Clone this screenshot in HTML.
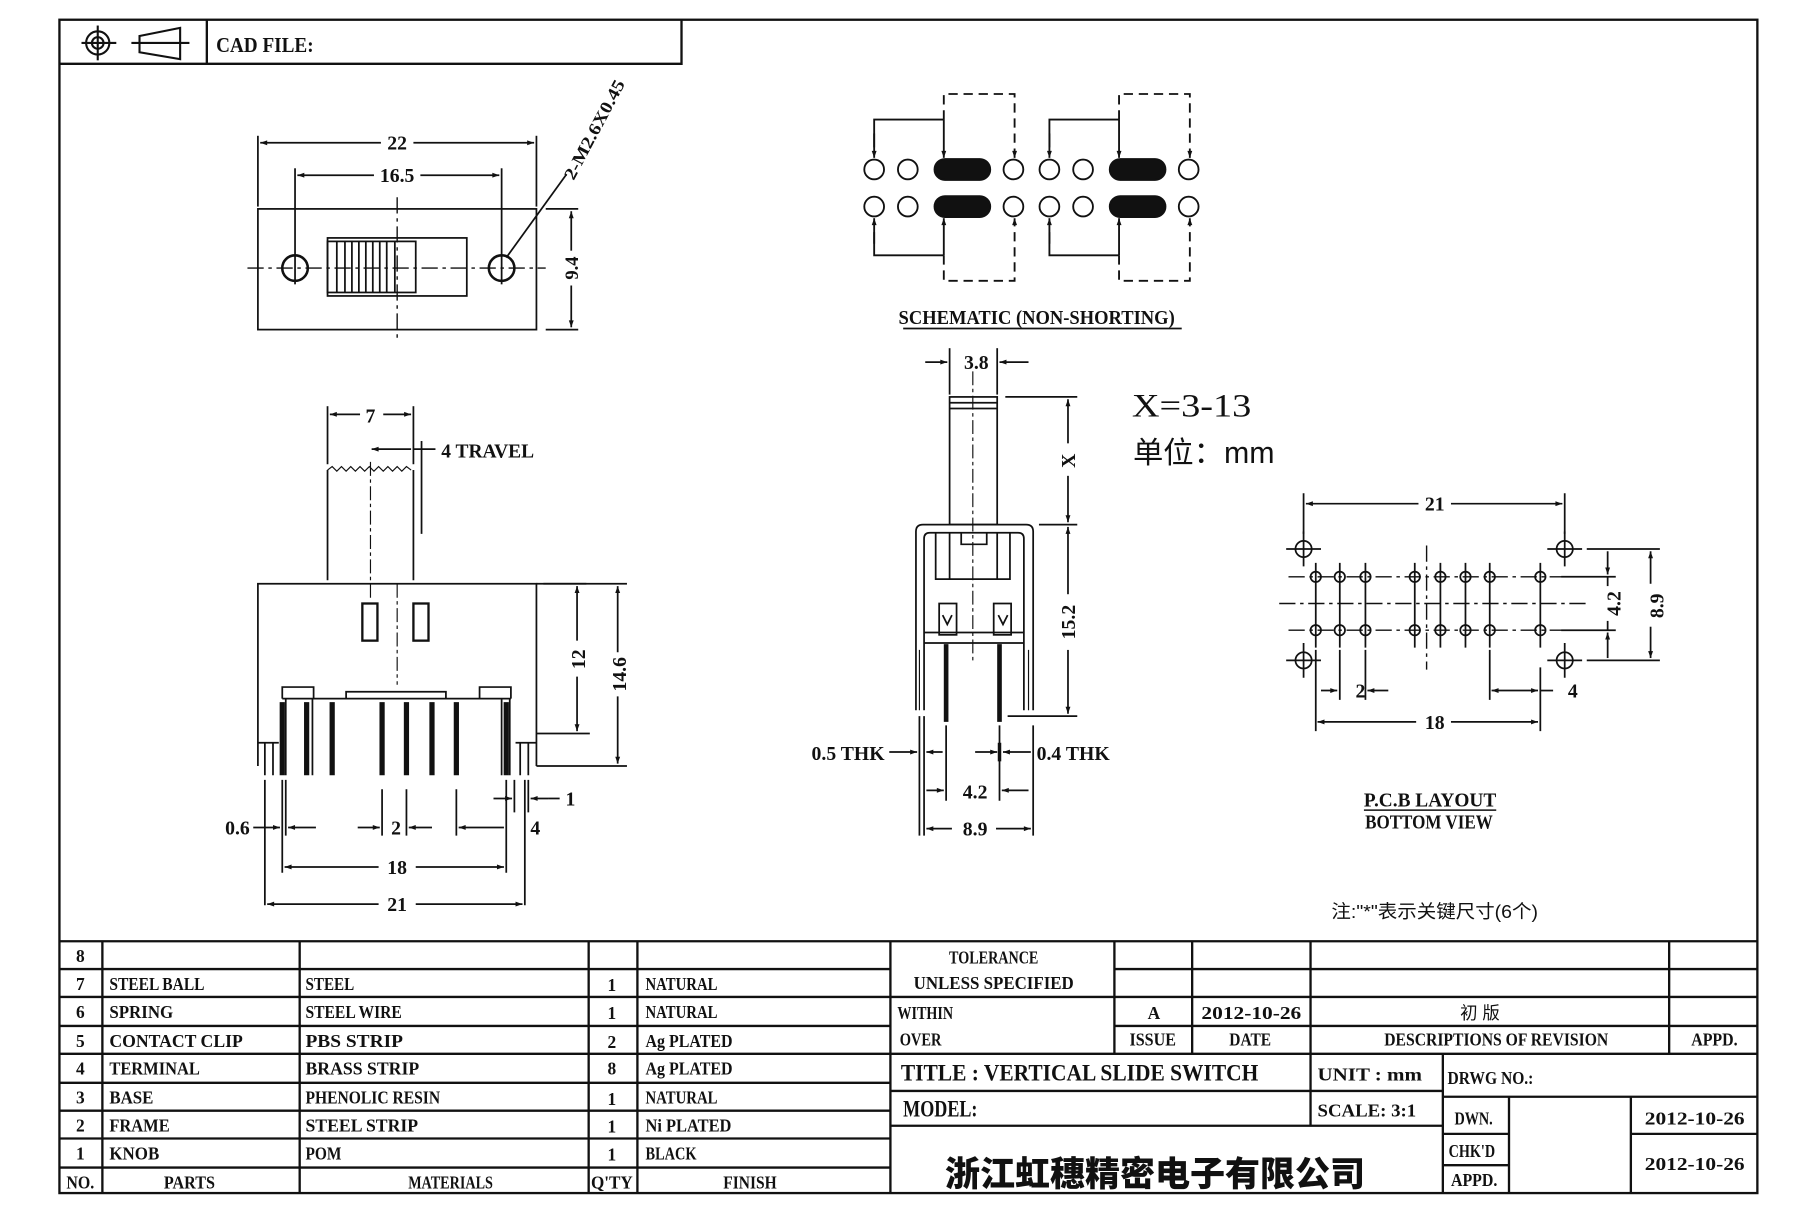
<!DOCTYPE html>
<html><head><meta charset="utf-8"><style>
html,body{margin:0;padding:0;background:#fff;}
svg{display:block;}
text{font-family:"Liberation Serif","Noto Serif CJK SC",serif;font-weight:bold;fill:#111;}
.cjk{font-family:"Liberation Sans","Noto Sans CJK SC",sans-serif;}
</style></head><body>
<svg width="1811" height="1207" viewBox="0 0 1560 1040" xmlns="http://www.w3.org/2000/svg">
<defs>
<marker id="a" viewBox="0 0 10 10" refX="10" refY="5" markerWidth="9" markerHeight="6" orient="auto-start-reverse" markerUnits="userSpaceOnUse"><path d="M0,1.5 L10,5 L0,8.5z" fill="#111"/></marker>
</defs>
<rect width="1560" height="1040" fill="#fff"/>
<g fill="none" stroke="#111" stroke-width="2">
<rect x="51" y="17" width="1463" height="1011"/>
<polyline points="51,55 587,55 587,17"/>
<line x1="178" y1="17" x2="178" y2="55"/>
</g>
<!-- header icons -->
<g fill="none" stroke="#111" stroke-width="1.8">
<circle cx="84" cy="37" r="10"/><circle cx="84" cy="37" r="5"/>
<line x1="70" y1="37" x2="100" y2="37"/><line x1="84" y1="22" x2="84" y2="52"/>
<polygon points="120,31 155,24 155,51 120,45"/>
<line x1="113" y1="37" x2="163" y2="37"/>
</g>
<text x="186" y="45" font-size="18" textLength="84" lengthAdjust="spacingAndGlyphs">CAD FILE:</text>

<!-- TOP VIEW -->
<g fill="none" stroke="#111" stroke-width="1.5">
<rect x="222" y="180" width="240" height="104"/>
<line x1="222" y1="117" x2="222" y2="178"/><line x1="462" y1="117" x2="462" y2="178"/>
<line x1="254" y1="145" x2="254" y2="245"/><line x1="432" y1="145" x2="432" y2="245"/>
<line x1="224" y1="123" x2="328" y2="123" marker-start="url(#a)"/><line x1="356" y1="123" x2="460" y2="123" marker-end="url(#a)"/>
<line x1="256" y1="151" x2="322" y2="151" marker-start="url(#a)"/><line x1="362" y1="151" x2="430" y2="151" marker-end="url(#a)"/>
<line x1="342" y1="170" x2="342" y2="292" stroke-dasharray="14,4,3,4" stroke-width="1.2"/>
<line x1="213" y1="231" x2="470" y2="231" stroke-dasharray="14,4,3,4" stroke-width="1.2"/>
<circle cx="254" cy="231" r="11" stroke-width="2.2"/><circle cx="432" cy="231" r="11" stroke-width="2.2"/>
<rect x="282" y="205" width="120" height="50"/>
<rect x="282" y="208" width="76" height="44"/>
<path d="M290,208V252M297,208V252M303,208V252M309,208V252M315,208V252M321,208V252M327,208V252M333,208V252M340,208V252"/>
<line x1="470" y1="180" x2="498" y2="180"/><line x1="470" y1="284" x2="498" y2="284"/>
<line x1="492" y1="182" x2="492" y2="216" marker-start="url(#a)"/><line x1="492" y1="246" x2="492" y2="282" marker-end="url(#a)"/>
<line x1="436" y1="222" x2="488" y2="150"/>
</g>
<text x="342" y="129" font-size="17" text-anchor="middle">22</text>
<text x="342" y="157" font-size="17" text-anchor="middle">16.5</text>
<text transform="translate(498,231) rotate(-90)" font-size="16" text-anchor="middle">9.4</text>
<text transform="translate(494,156) rotate(-62)" font-size="15" textLength="95" lengthAdjust="spacingAndGlyphs">2-M2.6X0.45</text>

<!-- SCHEMATIC -->
<g fill="none" stroke="#111" stroke-width="1.6">
<g id="sch">
<circle cx="753" cy="146" r="8.5"/><circle cx="782" cy="146" r="8.5"/><circle cx="873" cy="146" r="8.5"/>
<circle cx="753" cy="178" r="8.5"/><circle cx="782" cy="178" r="8.5"/><circle cx="873" cy="178" r="8.5"/>
<rect x="805" y="137" width="48" height="18" rx="9" fill="#111"/>
<rect x="805" y="169" width="48" height="18" rx="9" fill="#111"/>
<polyline points="753,127 753,103 813,103"/>
<line x1="753" y1="115" x2="753" y2="136" marker-end="url(#a)"/>
<line x1="813" y1="103" x2="813" y2="136" marker-end="url(#a)"/>
<polyline points="813,103 813,81 874,81 874,136" stroke-dasharray="8,5" marker-end="url(#a)"/>
<polyline points="753,200 753,220 813,220"/>
<line x1="753" y1="210" x2="753" y2="188" marker-end="url(#a)"/>
<line x1="813" y1="220" x2="813" y2="188" marker-end="url(#a)"/>
<polyline points="813,220 813,242 874,242 874,188" stroke-dasharray="8,5" marker-end="url(#a)"/>
</g>
<use href="#sch" x="151"/>
</g>
<text x="893" y="279" font-size="17" text-anchor="middle" textLength="238" lengthAdjust="spacingAndGlyphs">SCHEMATIC (NON-SHORTING)</text>
<line x1="778" y1="283" x2="1018" y2="283" stroke="#111" stroke-width="1.5"/>

<!-- FRONT VIEW (bottom-left) -->
<g fill="none" stroke="#111" stroke-width="1.5">
<path d="M282,500 V405 M356,500 V405"/>
<path d="M282,405 l4,-3 4,4 4,-4 4,4 4,-4 4,4 4,-4 4,4 4,-4 4,4 4,-4 4,4 4,-4 4,4 4,-4 4,4 4,-4 4,3" stroke-width="1"/>
<path d="M222,660 V503 H462 V660"/>
<rect x="312" y="520" width="13" height="32" stroke-width="2"/>
<rect x="356" y="520" width="13" height="32" stroke-width="2"/>
<line x1="342" y1="503" x2="342" y2="590" stroke-dasharray="12,3,3,3" stroke-width="1"/>
<line x1="319" y1="398" x2="319" y2="518" stroke-dasharray="12,3,3,3" stroke-width="1"/>
<path d="M243,602 V592 H270 V602 M413,602 V592 H440 V602 M298,602 V596 H384 V602 M243,602 H440"/>
<path d="M228,640 V668 M235,640 V668 M246,602 V668 M269,602 V668 M432,602 V668 M439,602 V668 M448,640 V668 M455,640 V668"/>
<path d="M222,640 H240 M462,640 H444"/>
<g stroke-width="4.5">
<path d="M243,605 V668 M264,605 V668 M286,605 V668 M329,605 V668 M350,605 V668 M372,605 V668 M393,605 V668 M436,605 V668"/>
</g>
<!-- dims -->
<line x1="282" y1="350" x2="282" y2="400"/><line x1="356" y1="350" x2="356" y2="400"/>
<line x1="284" y1="357" x2="310" y2="357" marker-start="url(#a)"/><line x1="330" y1="357" x2="354" y2="357" marker-end="url(#a)"/>
<line x1="320" y1="387" x2="354" y2="387" marker-start="url(#a)"/><line x1="356" y1="387" x2="375" y2="387"/>
<line x1="363" y1="380" x2="363" y2="460"/>
<line x1="468" y1="503" x2="505" y2="503"/><line x1="462" y1="503" x2="540" y2="503"/>
<line x1="462" y1="632" x2="508" y2="632"/><line x1="462" y1="660" x2="540" y2="660"/>
<line x1="497" y1="505" x2="497" y2="552" marker-start="url(#a)"/><line x1="497" y1="583" x2="497" y2="630" marker-end="url(#a)"/>
<line x1="532" y1="505" x2="532" y2="562" marker-start="url(#a)"/><line x1="532" y1="600" x2="532" y2="658" marker-end="url(#a)"/>
<path d="M228,672 V780 M243,672 V752 M246,672 V720 M329,680 V720 M350,680 V720 M393,680 V720 M436,672 V752 M452,672 V780 M455,672 V700 M443,672 V700"/>
<line x1="218" y1="713" x2="241" y2="713" marker-end="url(#a)"/><line x1="272" y1="713" x2="248" y2="713" marker-end="url(#a)"/>
<line x1="308" y1="713" x2="327" y2="713" marker-end="url(#a)"/><line x1="372" y1="713" x2="352" y2="713" marker-end="url(#a)"/>
<line x1="395" y1="713" x2="434" y2="713" marker-start="url(#a)"/>
<line x1="425" y1="688" x2="441" y2="688" marker-end="url(#a)"/><line x1="472" y1="688" x2="457" y2="688" marker-end="url(#a)"/><line x1="472" y1="688" x2="482" y2="688"/>
<line x1="245" y1="747" x2="326" y2="747" marker-start="url(#a)"/><line x1="358" y1="747" x2="434" y2="747" marker-end="url(#a)"/>
<line x1="230" y1="779" x2="326" y2="779" marker-start="url(#a)"/><line x1="358" y1="779" x2="450" y2="779" marker-end="url(#a)"/>
</g>
<text x="319" y="364" font-size="17" text-anchor="middle">7</text>
<text x="380" y="394" font-size="17" textLength="80" lengthAdjust="spacingAndGlyphs">4 TRAVEL</text>
<text transform="translate(504,568) rotate(-90)" font-size="17" text-anchor="middle">12</text>
<text transform="translate(539,581) rotate(-90)" font-size="17" text-anchor="middle">14.6</text>
<text x="215" y="719" font-size="17" text-anchor="end">0.6</text>
<text x="341" y="719" font-size="17" text-anchor="middle">2</text>
<text x="461" y="719" font-size="17" text-anchor="middle">4</text>
<text x="487" y="694" font-size="17">1</text>
<text x="342" y="753" font-size="17" text-anchor="middle">18</text>
<text x="342" y="785" font-size="17" text-anchor="middle">21</text>

<!-- SIDE VIEW (middle) -->
<g fill="none" stroke="#111" stroke-width="1.5">
<rect x="818" y="342" width="41" height="110"/>
<line x1="818" y1="347" x2="859" y2="347"/><line x1="818" y1="352" x2="859" y2="352"/>
<path d="M789,612 V458 Q789,452 795,452 H884 Q890,452 890,458 V612 M796,612 V464 Q796,459 801,459 H877 Q882,459 882,464 V612" />
<path d="M806,459 V499 H870 V459 M818,499 V459 M859,499 V459 M828,459 V469 H850 V459"/>
<path d="M796,545 H882 M796,554 H882"/>
<rect x="809" y="520" width="15" height="27"/><rect x="856" y="520" width="15" height="27"/>
<path d="M812,530 l4,8 4,-8 M860,530 l4,8 4,-8"/>
<g stroke-width="4"><path d="M815,555 V622 M861,555 V622"/></g>
<path d="M792,560 V612 M886,560 V612" stroke-width="1"/>
<line x1="838" y1="320" x2="838" y2="570" stroke-dasharray="12,3,3,3" stroke-width="1"/>
<!-- dims -->
<line x1="818" y1="300" x2="818" y2="340"/><line x1="859" y1="300" x2="859" y2="340"/>
<line x1="797" y1="312" x2="816" y2="312" marker-end="url(#a)"/><line x1="886" y1="312" x2="861" y2="312" marker-end="url(#a)"/>
<line x1="866" y1="342" x2="928" y2="342"/><line x1="895" y1="452" x2="928" y2="452"/><line x1="868" y1="617" x2="928" y2="617"/>
<line x1="920" y1="344" x2="920" y2="382" marker-start="url(#a)"/><line x1="920" y1="410" x2="920" y2="450" marker-end="url(#a)"/>
<line x1="920" y1="454" x2="920" y2="512" marker-start="url(#a)"/><line x1="920" y1="560" x2="920" y2="615" marker-end="url(#a)"/>
<path d="M792,617 V720 M796,617 V720 M815,625 V690 M861,625 V690 M890,625 V720"/>
<line x1="766" y1="648" x2="790" y2="648" marker-end="url(#a)"/><line x1="812" y1="648" x2="798" y2="648" marker-end="url(#a)"/>
<line x1="840" y1="648" x2="859" y2="648" marker-end="url(#a)"/><line x1="888" y1="648" x2="864" y2="648" marker-end="url(#a)"/>
<line x1="798" y1="681" x2="813" y2="681" marker-end="url(#a)"/><line x1="886" y1="681" x2="863" y2="681" marker-end="url(#a)"/>
<line x1="798" y1="714" x2="820" y2="714" marker-start="url(#a)"/><line x1="858" y1="714" x2="888" y2="714" marker-end="url(#a)"/>
</g>
<g stroke="#111" stroke-width="3"><line x1="861" y1="640" x2="861" y2="656"/></g>
<text x="841" y="318" font-size="17" text-anchor="middle">3.8</text>
<text transform="translate(926,397) rotate(-90)" font-size="17" text-anchor="middle">X</text>
<text transform="translate(926,536) rotate(-90)" font-size="17" text-anchor="middle">15.2</text>
<text x="762" y="655" font-size="17" text-anchor="end">0.5 THK</text>
<text x="893" y="655" font-size="17">0.4 THK</text>
<text x="840" y="688" font-size="17" text-anchor="middle">4.2</text>
<text x="840" y="720" font-size="17" text-anchor="middle">8.9</text>
<text x="975" y="359" font-size="28" style="font-weight:normal" textLength="103" lengthAdjust="spacingAndGlyphs">X=3-13</text>
<text x="976" y="399" font-size="26" style="font-weight:normal" class="cjk" textLength="122" lengthAdjust="spacingAndGlyphs">单位：mm</text>

<!-- PCB LAYOUT -->
<g fill="none" stroke="#111" stroke-width="1.5">
<line x1="1102" y1="520" x2="1370" y2="520" stroke-dasharray="14,4,3,4" stroke-width="1.2"/>
<line x1="1110" y1="497" x2="1360" y2="497" stroke-dasharray="14,4,3,4" stroke-width="1.2"/>
<line x1="1110" y1="543" x2="1360" y2="543" stroke-dasharray="14,4,3,4" stroke-width="1.2"/>
<line x1="1229" y1="470" x2="1229" y2="577" stroke-dasharray="14,4,3,4" stroke-width="1.2"/>
<g id="ph">
<circle cx="1133.5" cy="497" r="4.5"/><circle cx="1154.2" cy="497" r="4.5"/><circle cx="1176.3" cy="497" r="4.5"/><circle cx="1218.8" cy="497" r="4.5"/>
<circle cx="1240.9" cy="497" r="4.5"/><circle cx="1262.5" cy="497" r="4.5"/><circle cx="1283.4" cy="497" r="4.5"/><circle cx="1327" cy="497" r="4.5"/>
</g>
<use href="#ph" y="46"/>
<path d="M1133.5,485 V558 M1154.2,485 V558 M1176.3,485 V558 M1218.8,485 V558 M1240.9,485 V558 M1262.5,485 V558 M1283.4,485 V558 M1327,485 V558"/>
<circle cx="1123" cy="473" r="7"/><circle cx="1348" cy="473" r="7"/><circle cx="1123" cy="569" r="7"/><circle cx="1348" cy="569" r="7"/>
<path d="M1108,473 H1138 M1123,458 V488 M1333,473 H1363 M1348,458 V488 M1108,569 H1138 M1123,554 V584 M1333,569 H1363 M1348,554 V584"/>
<line x1="1123" y1="425" x2="1123" y2="460"/><line x1="1348" y1="425" x2="1348" y2="460"/>
<line x1="1125" y1="434" x2="1222" y2="434" marker-start="url(#a)"/><line x1="1250" y1="434" x2="1346" y2="434" marker-end="url(#a)"/>
<line x1="1367" y1="473" x2="1430" y2="473"/><line x1="1367" y1="569" x2="1430" y2="569"/>
<line x1="1345" y1="497" x2="1392" y2="497"/><line x1="1345" y1="543" x2="1392" y2="543"/>
<line x1="1385" y1="475" x2="1385" y2="495" marker-end="url(#a)"/><line x1="1385" y1="567" x2="1385" y2="545" marker-end="url(#a)"/>
<line x1="1385" y1="497" x2="1385" y2="505"/><line x1="1385" y1="535" x2="1385" y2="543"/>
<line x1="1422" y1="475" x2="1422" y2="503" marker-start="url(#a)"/><line x1="1422" y1="540" x2="1422" y2="567" marker-end="url(#a)"/>
<path d="M1133.5,560 V630 M1154.2,560 V603 M1176.3,560 V603 M1283.4,560 V603 M1327,575 V630"/>
<line x1="1138" y1="595" x2="1152" y2="595" marker-end="url(#a)"/><line x1="1196" y1="595" x2="1178" y2="595" marker-end="url(#a)"/>
<line x1="1285" y1="595" x2="1325" y2="595" marker-start="url(#a)" marker-end="url(#a)"/>
<line x1="1327" y1="595" x2="1338" y2="595"/>
<line x1="1135" y1="622" x2="1220" y2="622" marker-start="url(#a)"/><line x1="1250" y1="622" x2="1325" y2="622" marker-end="url(#a)"/>
</g>
<text x="1236" y="440" font-size="17" text-anchor="middle">21</text>
<text transform="translate(1396,520) rotate(-90)" font-size="17" text-anchor="middle">4.2</text>
<text transform="translate(1433,522) rotate(-90)" font-size="17" text-anchor="middle">8.9</text>
<text x="1172" y="601" font-size="17" text-anchor="middle">2</text>
<text x="1355" y="601" font-size="17" text-anchor="middle">4</text>
<text x="1236" y="628" font-size="17" text-anchor="middle">18</text>
<text x="1175" y="695" font-size="17" textLength="114" lengthAdjust="spacingAndGlyphs">P.C.B LAYOUT</text>
<line x1="1175" y1="698" x2="1289" y2="698" stroke="#111" stroke-width="1.3"/>
<text x="1176" y="714" font-size="17" textLength="110" lengthAdjust="spacingAndGlyphs">BOTTOM VIEW</text>
<text x="1147" y="791" font-size="16" class="cjk" style="font-weight:normal" textLength="178" lengthAdjust="spacingAndGlyphs">注:"*"表示关键尺寸(6个)</text>

<!-- TITLE BLOCK -->
<g fill="none" stroke="#111" stroke-width="2">
<line x1="51" y1="811" x2="1514" y2="811"/>
<path d="M51,835 H767 M51,859 H767 M51,884 H767 M51,908 H767 M51,933 H767 M51,957 H767 M51,981 H767 M51,1006 H767"/>
<path d="M88,811 V1028 M258,811 V1028 M507,811 V1028 M549,811 V1028 M767,811 V1028"/>
<path d="M960,835 H1514 M767,859 H1514 M960,884 H1514 M767,908 H1514"/>
<path d="M960,811 V908 M1027,811 V908 M1129,811 V908 M1438,811 V908"/>
<path d="M767,940 H1243 M767,970 H1243 M1129,908 V970 M1243,908 V1028"/>
<path d="M1243,945 H1514 M1243,977 H1300 M1405,977 H1514 M1243,1004 H1300 M1300,945 V1028 M1405,945 V1028"/>
</g>
<g font-size="15">
<text x="69" y="829" text-anchor="middle">8</text>
<text x="69" y="853" text-anchor="middle">7</text>
<text x="69" y="877" text-anchor="middle">6</text>
<text x="69" y="902" text-anchor="middle">5</text>
<text x="69" y="926" text-anchor="middle">4</text>
<text x="69" y="951" text-anchor="middle">3</text>
<text x="69" y="975" text-anchor="middle">2</text>
<text x="69" y="999" text-anchor="middle">1</text>
<text x="69" y="1024" text-anchor="middle" textLength="24" lengthAdjust="spacingAndGlyphs">NO.</text>
<text x="94" y="853" textLength="82" lengthAdjust="spacingAndGlyphs">STEEL BALL</text>
<text x="94" y="877" textLength="55" lengthAdjust="spacingAndGlyphs">SPRING</text>
<text x="94" y="902" textLength="115" lengthAdjust="spacingAndGlyphs">CONTACT CLIP</text>
<text x="94" y="926" textLength="78" lengthAdjust="spacingAndGlyphs">TERMINAL</text>
<text x="94" y="951" textLength="38" lengthAdjust="spacingAndGlyphs">BASE</text>
<text x="94" y="975" textLength="52" lengthAdjust="spacingAndGlyphs">FRAME</text>
<text x="94" y="999" textLength="43" lengthAdjust="spacingAndGlyphs">KNOB</text>
<text x="163" y="1024" text-anchor="middle" textLength="44" lengthAdjust="spacingAndGlyphs">PARTS</text>
<text x="263" y="853" textLength="42" lengthAdjust="spacingAndGlyphs">STEEL</text>
<text x="263" y="877" textLength="83" lengthAdjust="spacingAndGlyphs">STEEL WIRE</text>
<text x="263" y="902" textLength="84" lengthAdjust="spacingAndGlyphs">PBS STRIP</text>
<text x="263" y="926" textLength="98" lengthAdjust="spacingAndGlyphs">BRASS STRIP</text>
<text x="263" y="951" textLength="116" lengthAdjust="spacingAndGlyphs">PHENOLIC RESIN</text>
<text x="263" y="975" textLength="97" lengthAdjust="spacingAndGlyphs">STEEL STRIP</text>
<text x="263" y="999" textLength="31" lengthAdjust="spacingAndGlyphs">POM</text>
<text x="388" y="1024" text-anchor="middle" textLength="73" lengthAdjust="spacingAndGlyphs">MATERIALS</text>
<text x="527" y="854" text-anchor="middle">1</text>
<text x="527" y="878" text-anchor="middle">1</text>
<text x="527" y="903" text-anchor="middle">2</text>
<text x="527" y="926" text-anchor="middle">8</text>
<text x="527" y="952" text-anchor="middle">1</text>
<text x="527" y="976" text-anchor="middle">1</text>
<text x="527" y="1000" text-anchor="middle">1</text>
<text x="527" y="1024" text-anchor="middle" textLength="36" lengthAdjust="spacingAndGlyphs">Q'TY</text>
<text x="556" y="853" textLength="62" lengthAdjust="spacingAndGlyphs">NATURAL</text>
<text x="556" y="877" textLength="62" lengthAdjust="spacingAndGlyphs">NATURAL</text>
<text x="556" y="902" textLength="75" lengthAdjust="spacingAndGlyphs">Ag PLATED</text>
<text x="556" y="926" textLength="75" lengthAdjust="spacingAndGlyphs">Ag PLATED</text>
<text x="556" y="951" textLength="62" lengthAdjust="spacingAndGlyphs">NATURAL</text>
<text x="556" y="975" textLength="74" lengthAdjust="spacingAndGlyphs">Ni PLATED</text>
<text x="556" y="999" textLength="44" lengthAdjust="spacingAndGlyphs">BLACK</text>
<text x="646" y="1024" text-anchor="middle" textLength="46" lengthAdjust="spacingAndGlyphs">FINISH</text>
<text x="856" y="830" text-anchor="middle" textLength="77" lengthAdjust="spacingAndGlyphs">TOLERANCE</text>
<text x="856" y="852" text-anchor="middle" textLength="138" lengthAdjust="spacingAndGlyphs">UNLESS SPECIFIED</text>
<text x="773" y="878" textLength="48" lengthAdjust="spacingAndGlyphs">WITHIN</text>
<text x="775" y="901" textLength="36" lengthAdjust="spacingAndGlyphs">OVER</text>
<text x="994" y="878" text-anchor="middle">A</text>
<text x="1078" y="878" text-anchor="middle" textLength="86" lengthAdjust="spacingAndGlyphs">2012-10-26</text>
<text x="1275" y="878" text-anchor="middle" class="cjk" style="font-weight:normal">初 版</text>
<text x="993" y="901" text-anchor="middle" textLength="40" lengthAdjust="spacingAndGlyphs">ISSUE</text>
<text x="1077" y="901" text-anchor="middle" textLength="36" lengthAdjust="spacingAndGlyphs">DATE</text>
<text x="1289" y="901" text-anchor="middle" textLength="193" lengthAdjust="spacingAndGlyphs">DESCRIPTIONS OF REVISION</text>
<text x="1477" y="901" text-anchor="middle" textLength="40" lengthAdjust="spacingAndGlyphs">APPD.</text>
<text x="1135" y="931" textLength="90" lengthAdjust="spacingAndGlyphs">UNIT : mm</text>
<text x="1135" y="962" textLength="85" lengthAdjust="spacingAndGlyphs">SCALE: 3:1</text>
<text x="1247" y="934" textLength="74" lengthAdjust="spacingAndGlyphs">DRWG NO.:</text>
<text x="1253" y="969" textLength="33" lengthAdjust="spacingAndGlyphs">DWN.</text>
<text x="1503" y="969" text-anchor="end" textLength="86" lengthAdjust="spacingAndGlyphs">2012-10-26</text>
<text x="1248" y="997" textLength="40" lengthAdjust="spacingAndGlyphs">CHK'D</text>
<text x="1250" y="1022" textLength="40" lengthAdjust="spacingAndGlyphs">APPD.</text>
<text x="1503" y="1008" text-anchor="end" textLength="86" lengthAdjust="spacingAndGlyphs">2012-10-26</text>
</g>
<text x="776" y="931" font-size="20" textLength="308" lengthAdjust="spacingAndGlyphs">TITLE :  VERTICAL SLIDE SWITCH</text>
<text x="778" y="962" font-size="20" textLength="64" lengthAdjust="spacingAndGlyphs">MODEL:</text>
<text x="995" y="1022" font-size="30" text-anchor="middle" class="cjk" textLength="362" lengthAdjust="spacingAndGlyphs" style="font-weight:900">浙江虹穗精密电子有限公司</text>
</svg>
</body></html>
